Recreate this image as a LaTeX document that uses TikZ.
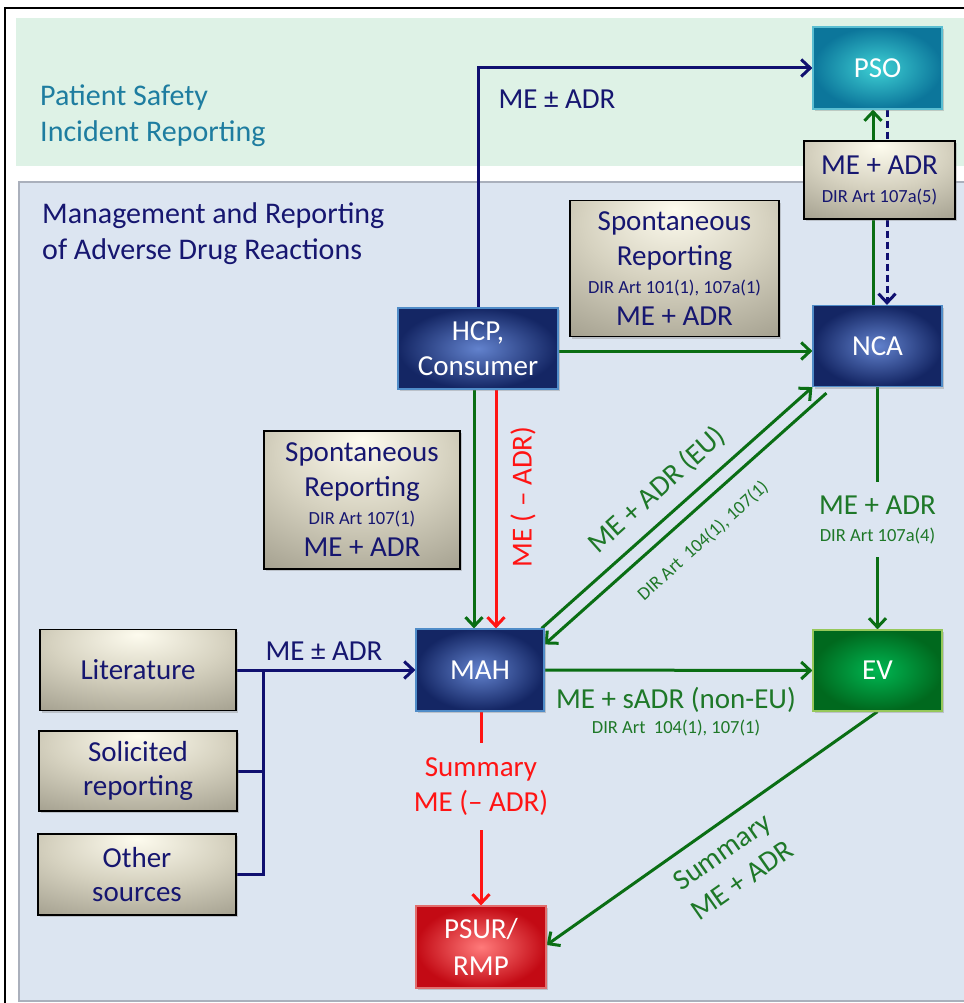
\documentclass[tikz,border=0pt]{standalone}
\usepackage{fontspec}
\setmainfont{Carlito}
\usetikzlibrary{arrows.meta,shadows}
\pgfdeclarelayer{bg}
\pgfdeclarelayer{lines}
\pgfsetlayers{bg,lines,main}
\definecolor{bandgreen}{RGB}{222,242,230}
\definecolor{panelblue}{RGB}{220,229,241}
\definecolor{panelborder}{RGB}{170,176,188}
\definecolor{navyline}{RGB}{16,16,112}
\definecolor{navytext}{RGB}{22,22,112}
\definecolor{greenline}{RGB}{10,110,20}
\definecolor{greentext}{RGB}{30,120,40}
\definecolor{redline}{RGB}{255,20,20}
\definecolor{tealtext}{RGB}{30,125,160}
\definecolor{beigeIn}{RGB}{253,251,238}
\definecolor{beigeMid}{RGB}{214,210,192}
\definecolor{beigeOut}{RGB}{128,124,108}
\definecolor{blueIn}{RGB}{98,130,205}
\definecolor{blueOut}{RGB}{20,38,100}
\definecolor{blueBorder}{RGB}{80,140,200}
\definecolor{tealIn}{RGB}{62,208,212}
\definecolor{tealOut}{RGB}{12,118,155}
\definecolor{tealBorder}{RGB}{90,190,210}
\definecolor{greenIn}{RGB}{0,182,82}
\definecolor{greenOut}{RGB}{0,105,30}
\definecolor{greenBorder}{RGB}{150,200,90}
\definecolor{redIn}{RGB}{255,122,122}
\definecolor{redOut}{RGB}{195,10,20}
\definecolor{redBorder}{RGB}{225,110,110}
\pgfdeclareradialshading{beigeshade}{\pgfpoint{0bp}{22bp}}{color(0bp)=(beigeIn); color(22bp)=(beigeMid); color(62bp)=(beigeOut); color(100bp)=(beigeOut)}
\newcommand{\bigf}{\fontsize{29}{35}\selectfont}
\newcommand{\titlef}{\fontsize{30}{36}\selectfont}
\newcommand{\smallf}{\fontsize{18.5}{22}\selectfont}
\begin{document}
\begin{tikzpicture}[x=1pt,y=-1pt,
  txt/.style={inner sep=0pt, font=\bigf, align=center},
  box/.style={rectangle, inner sep=0pt, align=center, font=\bigf,
    drop shadow={opacity=0.35,shadow xshift=2pt,shadow yshift=-2pt}},
  beigebox/.style={box, draw=black, line width=1.5pt, shading=beigeshade, text=navytext},
  bluebox/.style={box, draw=blueBorder, line width=1.2pt, inner color=blueIn, outer color=blueOut, text=white},
  tealbox/.style={box, draw=tealBorder, line width=1.2pt, inner color=tealIn, outer color=tealOut, text=white},
  greenbox/.style={box, draw=greenBorder, line width=1.2pt, inner color=greenIn, outer color=greenOut, text=white},
  redbox/.style={box, draw=redBorder, line width=1.2pt, inner color=redIn, outer color=redOut, text=white},
  conn/.style={line width=3pt},
  arr/.style={conn, -{Straight Barb[length=9pt,width=17pt]}},
  dashedline/.style={dash pattern=on 7pt off 4pt}
]
\useasboundingbox (0,0) rectangle (963,1003);

% titles
\node[txt, font=\titlef, anchor=base west, text=tealtext] (t1) at (40,106) {Patient Safety};
\node[txt, font=\titlef, anchor=base west, text=tealtext] (t2) at (40,142) {Incident Reporting};
\node[txt, font=\titlef, anchor=base west, text=navytext] (t3) at (42,223) {Management and Reporting};
\node[txt, font=\titlef, anchor=base west, text=navytext] (t4) at (42,259) {of Adverse Drug Reactions};

% main boxes
\node[tealbox, minimum width=129pt, minimum height=82pt] (pso) at (877.5,68) {PSO};
\node[bluebox, minimum width=129pt, minimum height=81pt] (nca) at (877.5,346) {NCA};
\node[greenbox, minimum width=129pt, minimum height=81pt] (ev) at (877.5,670.5) {EV};
\node[bluebox, minimum width=160pt, minimum height=81pt] (hcp) at (478,348.5) {HCP,\\Consumer};
\node[bluebox, minimum width=128pt, minimum height=82pt] (mah) at (480,670) {MAH};
\node[redbox, minimum width=130pt, minimum height=82pt] (psur) at (481,947) {PSUR/\\[2pt]RMP};
\node[beigebox, minimum width=151pt, minimum height=78pt] (adr5) at (879.5,180) {ME + ADR\\[-7pt]{\smallf DIR Art 107a(5)}};
\node[beigebox, minimum width=209pt, minimum height=136pt] (sp1) at (674.5,268.5) {Spontaneous\\Reporting\\[-7pt]{\smallf DIR Art 101(1), 107a(1)}\\[-3pt]ME + ADR};
\node[beigebox, minimum width=196pt, minimum height=138pt] (sp2) at (362,500) {Spontaneous\\Reporting\\[-7pt]{\smallf DIR Art 107(1)}\\[-3pt]ME + ADR};
\node[beigebox, minimum width=196pt, minimum height=81pt] (lit) at (138,670) {Literature};
\node[beigebox, minimum width=198pt, minimum height=80pt] (sol) at (138,771) {Solicited\\[-1pt]reporting};
\node[beigebox, minimum width=198pt, minimum height=81pt] (oth) at (137,874.5) {Other\\[-1pt]sources};

% gap labels
\node[txt, text=greentext, minimum height=75pt] (lnev) at (877.5,519.5) {ME + ADR\\[-8pt]{\smallf DIR Art 107a(4)}};
\node[txt, text=redline, minimum height=87pt] (lred) at (481,786.5) {Summary\\ME (– ADR)};

% other labels
\node[txt, text=navytext] (ltop) at (557,99) {ME ± ADR};
\node[txt, text=navytext] (lsrc) at (324,651) {ME ± ADR};
\node[txt, text=redline, rotate=90] (lme) at (523,497) {ME ( – ADR)};
\node[txt, text=greentext, rotate=42] (leu) at (657,490) {ME + ADR (EU)};
\node[txt, text=greentext, rotate=42, font=\smallf] (leu2) at (703,541) {DIR Art\ \ 104(1), 107(1)};
\node[txt, text=greentext] (lnon) at (676,712) {ME + sADR (non-EU)\\[-10pt]{\smallf DIR Art\ \ 104(1), 107(1)}};
\node[txt, text=greentext, rotate=35] (lsum) at (732,866) {Summary\\ME + ADR};

\coordinate (xg) at (873,0);
\coordinate (xd) at (887,0);
\coordinate (y351) at (0,351);
\coordinate (xg2) at (474,0);
\coordinate (xr2) at (496,0);
\coordinate (bus) at (263,670);

\begin{pgfonlayer}{bg}
\fill[bandgreen] (16,18) rectangle (975,166);
\filldraw[fill=panelblue, draw=panelborder, line width=1.2pt] (19,182) rectangle (980,1001);
\draw[black, line width=2pt] (5,1010) -- (5,8) -- (975,8);
\end{pgfonlayer}

\begin{pgfonlayer}{lines}
\draw[arr, navyline] (hcp.north) |- (pso.west);
\draw[arr, greenline] (nca.north -| xg) -- (pso.south -| xg);
\draw[arr, navyline, dashedline] (pso.south -| xd) -- (nca.north -| xd);
\draw[arr, greenline] (hcp.east |- y351) -- (nca.west |- y351);
\draw[arr, greenline] (hcp.south -| xg2) -- (mah.north -| xg2);
\draw[arr, redline] (hcp.south -| xr2) -- (mah.north -| xr2);
\draw[arr, greenline] ([xshift=-3pt]mah.north east) -- (nca.south west);
\draw[arr, greenline] ([xshift=14pt,yshift=-6pt]nca.south west) -- ([yshift=-16pt]mah.north east);
\draw[conn, greenline] (nca.south) -- (lnev.north);
\draw[arr, greenline] (lnev.south) -- (ev.north);
\draw[arr, greenline] (mah.east) -- (ev.west);
\draw[arr, greenline] (ev.south) -- ([yshift=2pt]psur.east);
\draw[conn, redline] (mah.south -| lred) -- (lred.north);
\draw[arr, redline] (lred.south) -- (psur.north -| lred);
\draw[arr, navyline] (lit.east) -- (mah.west);
\draw[conn, navyline] (sol.east) -- (sol.east -| bus);
\draw[conn, navyline] (oth.east) -| (bus);
\end{pgfonlayer}
\end{tikzpicture}
\end{document}
